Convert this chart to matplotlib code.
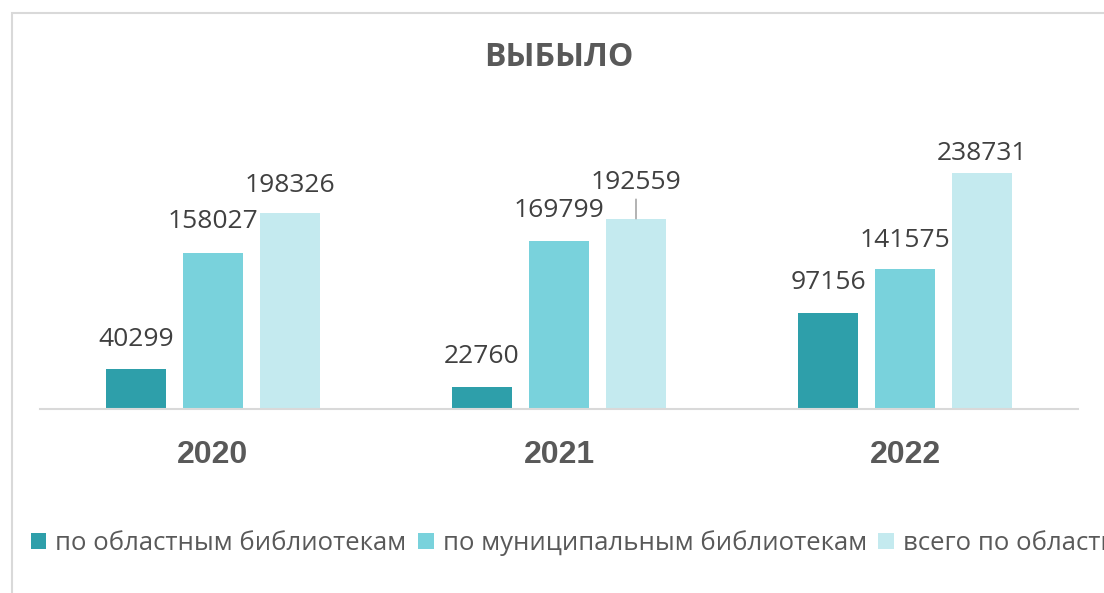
import numpy as np
import matplotlib
matplotlib.use("Agg")
import matplotlib.pyplot as plt
from matplotlib.patches import Rectangle, Patch

years = ["2020", "2021", "2022"]
series_names = ["по областным библиотекам", "по муниципальным библиотекам", "всего по области"]
oblast = [40299, 22760, 97156]
municipal = [158027, 169799, 141575]
total = [198326, 192559, 238731]

colors = ["#2E9FAA", "#79D2DC", "#C4EAEF"]
text_color = "#595959"
value_color = "#404040"

# label offsets above bar top, in pixels (Excel had some labels dragged by hand)
label_offsets = [[30, 31, 27], [30, 31, 36], [30, 29, 20]]

plt.rcParams["font.family"] = ["Open Sans", "DejaVu Sans"]

W, H = 1104, 593
fig = plt.figure(figsize=(W / 100, H / 100), dpi=100)

# chart border (cropped at right and bottom in the reference)
fig.patches.append(Rectangle((12 / W, -0.1), 1.2, (H - 13) / H + 0.1,
                             transform=fig.transFigure, fill=False,
                             edgecolor="#D9D9D9", linewidth=1.5))

ax = fig.add_axes([40 / W, (H - 409) / H, (1078 - 40) / W, (409 - 100) / H])

x = np.arange(len(years))
width = 60 / 346
step = 77 / 346
all_series = [oblast, municipal, total]
for i, vals in enumerate(all_series):
    xs = x + (i - 1) * step
    ax.bar(xs, vals, width=width, color=colors[i], label=series_names[i])
    for j, v in enumerate(vals):
        off = label_offsets[j][i]
        if off > 32:
            ax.annotate(str(v), xy=(xs[j], v), xytext=(0, off), textcoords="offset pixels",
                        ha="center", va="center", fontsize=19, color=value_color,
                        arrowprops=dict(arrowstyle="-", color="#A6A6A6", lw=1.2,
                                        shrinkA=1, shrinkB=0))
        else:
            ax.annotate(str(v), xy=(xs[j], v), xytext=(0, off), textcoords="offset pixels",
                        ha="center", va="center", fontsize=19, color=value_color)

ax.set_xlim(-0.5, 2.5)
ax.set_ylim(0, 309 * 238731 / 236)
ax.set_yticks([])
ax.set_xticks(x)
ax.set_xticklabels(years, fontsize=23, fontweight="bold", color=text_color,
                   family=["Liberation Sans", "DejaVu Sans"])
ax.tick_params(axis="x", length=0, pad=22)
for s in ["top", "right", "left"]:
    ax.spines[s].set_visible(False)
ax.spines["bottom"].set_color("#D9D9D9")
ax.spines["bottom"].set_linewidth(1.5)

fig.text(559 / W, 1 - 58 / H, "ВЫБЫЛО", ha="center", va="center",
         fontsize=23, fontweight="bold", color=text_color)

handles = [Patch(facecolor=c, edgecolor="none") for c in colors]
fig.legend(handles, series_names, loc="center left", bbox_to_anchor=(31 / W, 1 - 543 / H),
           ncol=3, frameon=False, fontsize=18.5, labelcolor=text_color,
           handlelength=0.6, handleheight=0.6, handletextpad=0.35, columnspacing=0.45,
           borderaxespad=0, borderpad=0)

fig.savefig("out.png", dpi=100)
